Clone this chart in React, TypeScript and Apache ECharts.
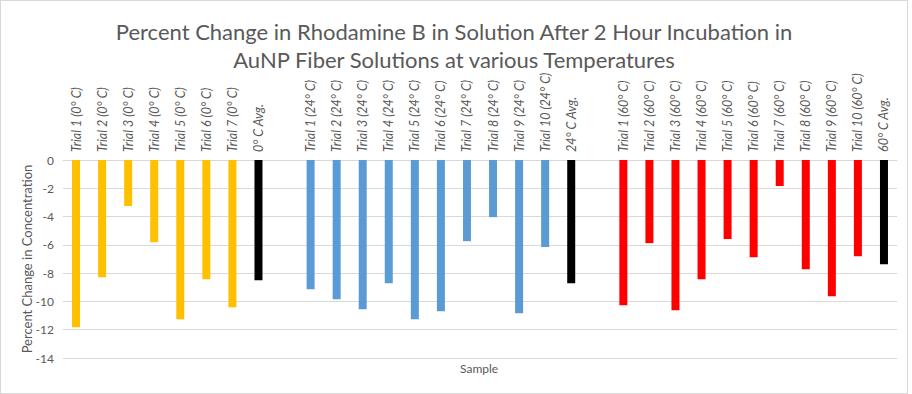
import React, { useEffect, useRef } from "react";
import * as echarts from "echarts";

const cold = [-11.83, -8.29, -3.26, -5.81, -11.26, -8.43, -10.41];
const coldAvg = -8.5;
const room = [-9.14, -9.84, -10.55, -8.71, -11.26, -10.69, -5.74, -4.04, -10.84, -6.16];
const roomAvg = -8.71;
const hot = [-10.27, -5.88, -10.62, -8.43, -5.59, -6.87, -1.84, -7.72, -9.63, -6.8];
const hotAvg = -7.37;

const coldLabels = cold.map((_, i) => `Trial ${i + 1} (0° C)`);
const roomLabels = room.map((_, i) => `Trial ${i + 1} (24° C)`);
const hotLabels = hot.map((_, i) => `Trial ${i + 1} (60° C)`);
const avgLabels = ["0° C Avg.", "24° C Avg.", "60° C Avg."];

const yTicks = { min: -14, max: 0, interval: 2 };

const COLORS = { cold: "#FFC000", room: "#5B9BD5", hot: "#FF0000", avg: "#000000" };
const FONT = "Lato, 'Noto Sans', sans-serif";

export default function App() {
  const ref = useRef<HTMLDivElement>(null);
  useEffect(() => {
    document.body.style.margin = "0";
    if (!ref.current) return;
    const chart = echarts.init(ref.current, null, { renderer: "svg" });

    const categories: string[] = [
      ...coldLabels, avgLabels[0], " ",
      ...roomLabels, avgLabels[1], "  ",
      ...hotLabels, avgLabels[2],
    ];
    const item = (v: number | null, c: string) =>
      v === null ? null : { value: v, itemStyle: { color: c } };
    const data = [
      ...cold.map((v) => item(v, COLORS.cold)), item(coldAvg, COLORS.avg), null,
      ...room.map((v) => item(v, COLORS.room)), item(roomAvg, COLORS.avg), null,
      ...hot.map((v) => item(v, COLORS.hot)), item(hotAvg, COLORS.avg),
    ];

    chart.setOption({
      animation: false,
      textStyle: { fontFamily: FONT },
      title: {
        text: "Percent Change in Rhodamine B in Solution After 2 Hour Incubation in\nAuNP Fiber Solutions at various Temperatures",
        left: "center",
        top: 11,
        textStyle: { fontFamily: FONT, fontSize: 22, fontWeight: "normal", color: "#595959", lineHeight: 28 },
      },
      grid: { left: 62, right: 10, top: 159, bottom: 35, containLabel: false },
      xAxis: {
        type: "category",
        position: "top",
        data: categories,
        axisLine: { show: true, lineStyle: { color: "#D9D9D9" } },
        axisTick: { show: false },
        axisLabel: {
          interval: 0,
          rotate: 90,
          margin: 8,
          fontStyle: "italic",
          fontSize: 12.5,
          color: "#595959",
          fontFamily: FONT,
        },
      },
      yAxis: {
        type: "value",
        min: yTicks.min,
        max: yTicks.max,
        interval: yTicks.interval,
        name: "Percent Change in Concentration",
        nameLocation: "middle",
        nameGap: 30,
        nameMoveOverlap: false,
        nameTextStyle: { color: "#595959", fontSize: 13, fontFamily: FONT },
        axisLine: { show: false },
        axisTick: { show: false },
        axisLabel: { color: "#595959", fontSize: 12, margin: 9, fontFamily: FONT },
        splitLine: { lineStyle: { color: "#D9D9D9" } },
      },
      graphic: [
        {
          type: "text",
          left: 459,
          top: 361,
          style: { text: "Sample", fill: "#595959", fontSize: 12, fontFamily: FONT },
        },
      ],
      series: [
        {
          type: "bar",
          data,
          barWidth: 8,
        },
      ],
    });
    return () => chart.dispose();
  }, []);

  return (
    <div style={{ width: 906, height: 392, border: "1px solid #D9D9D9", background: "#fff" }}>
      <div ref={ref} style={{ width: 906, height: 392 }} />
    </div>
  );
}
